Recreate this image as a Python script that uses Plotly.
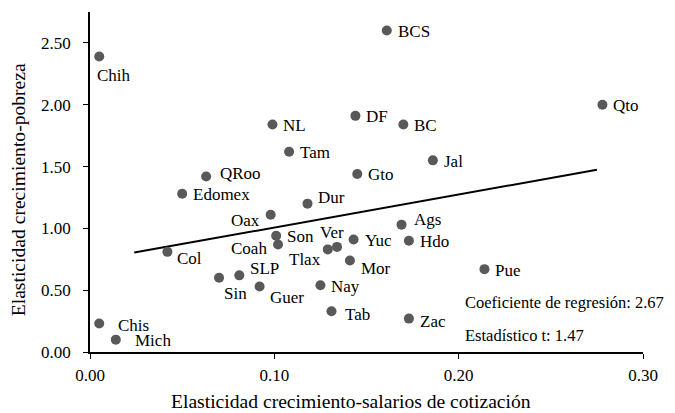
import plotly.graph_objects as go

estados = ["Chih", "BCS", "DF", "BC", "Qto", "Jal", "Gto", "NL", "Tam", "QRoo",
           "Edomex", "Dur", "Oax", "Son", "Coah", "Col", "Tlax", "Ver", "SLP", "Sin",
           "Guer", "Nay", "Tab", "Chis", "Mich", "Yuc", "Ags", "Hdo", "Mor", "Pue", "Zac"]
elasticidad_salarios = [0.005, 0.161, 0.144, 0.170, 0.278, 0.186, 0.145, 0.099, 0.108, 0.063,
                        0.050, 0.118, 0.098, 0.101, 0.102, 0.042, 0.129, 0.134, 0.081, 0.070,
                        0.092, 0.125, 0.131, 0.005, 0.014, 0.143, 0.169, 0.173, 0.141, 0.214, 0.173]
elasticidad_pobreza = [2.39, 2.60, 1.91, 1.84, 2.00, 1.55, 1.44, 1.84, 1.62, 1.42,
                       1.28, 1.20, 1.11, 0.94, 0.87, 0.81, 0.83, 0.85, 0.62, 0.60,
                       0.53, 0.54, 0.33, 0.23, 0.10, 0.91, 1.03, 0.90, 0.74, 0.67, 0.27]

# recta de regresión
recta_x = [0.024, 0.275]
intercepto = 0.74
pendiente = 2.67
recta_y = [intercepto + pendiente * v for v in recta_x]

coeficiente = "2.67"
estadistico_t = "1.47"

FONT = "Liberation Serif, serif"
SIZE = 17
TITLE_SIZE = 19.6

# desplazamiento de etiquetas (px): (dx, dy hacia abajo, anclaje)
offsets = {
    "Chih": (-4, 19, "left"), "Oax": (-9, 6, "right"), "Coah": (-9, 4, "right"),
    "Tlax": (-5, 10, "right"), "Ver": (-5, -14, "center"), "SLP": (9, -7, "left"),
    "Sin": (3, 16, "left"), "Guer": (8, 11, "left"), "Tab": (12, 3, "left"),
    "Chis": (17, 2, "left"), "Mich": (17, 1, "left"), "Ags": (10, -5, "left"),
    "Mor": (9, 8, "left"), "Col": (8, 7, "left"), "Dur": (8, -6, "left"),
    "QRoo": (12, -3, "left"), "Zac": (9, 3, "left"),
}

fig = go.Figure()
fig.add_trace(go.Scatter(
    x=recta_x, y=recta_y, mode="lines",
    line=dict(color="black", width=2), hoverinfo="skip", showlegend=False,
))
fig.add_trace(go.Scatter(
    x=elasticidad_salarios, y=elasticidad_pobreza, mode="markers",
    marker=dict(size=10, color="#595959"), text=estados, showlegend=False,
))

for nombre, xv, yv in zip(estados, elasticidad_salarios, elasticidad_pobreza):
    dx, dy, anchor = offsets.get(nombre, (9, 1, "left"))
    fig.add_annotation(
        x=xv, y=yv, text=nombre, showarrow=False,
        xanchor=anchor, yanchor="middle", xshift=dx, yshift=-dy,
        font=dict(family=FONT, size=SIZE, color="black"),
    )

fig.add_annotation(
    x=0.2025, y=0.40, text=f"Coeficiente de regresión: {coeficiente}", showarrow=False,
    xanchor="left", yanchor="middle", font=dict(family=FONT, size=16.5, color="black"),
)
fig.add_annotation(
    x=0.2025, y=0.13, text=f"Estadístico t: {estadistico_t}", showarrow=False,
    xanchor="left", yanchor="middle", font=dict(family=FONT, size=16.5, color="black"),
)
fig.add_annotation(
    xref="paper", yref="paper", x=0.472, y=-0.147, yanchor="middle",
    text="Elasticidad crecimiento-salarios de cotización", showarrow=False,
    font=dict(family=FONT, size=TITLE_SIZE, color="black"),
)
fig.add_annotation(
    xref="paper", yref="paper", x=-0.13, y=0.476, textangle=-90,
    xanchor="center", yanchor="middle",
    text="Elasticidad crecimiento-pobreza", showarrow=False,
    font=dict(family=FONT, size=TITLE_SIZE, color="black"),
)

fig.update_xaxes(
    range=[0, 0.30], tickvals=[0, 0.1, 0.2, 0.3], tickformat=".2f",
    showgrid=False, zeroline=False, showline=True, linecolor="black", linewidth=1.5,
    ticks="outside", ticklen=5, tickcolor="black", ticklabelstandoff=2,
)
fig.update_yaxes(
    range=[0, 2.75], tickvals=[0, 0.5, 1, 1.5, 2, 2.5], tickformat=".2f",
    showgrid=False, zeroline=False, showline=True, linecolor="black", linewidth=1.5,
    ticks="outside", ticklen=5, tickcolor="black", ticklabelstandoff=9,
)
# la página tiene 8px de margen en el body
fig.update_layout(
    width=667, height=405,
    margin=dict(l=82, r=32, t=4, b=61),
    plot_bgcolor="white", paper_bgcolor="white",
    font=dict(family=FONT, size=SIZE, color="black"),
)

fig.write_html("out.html")
